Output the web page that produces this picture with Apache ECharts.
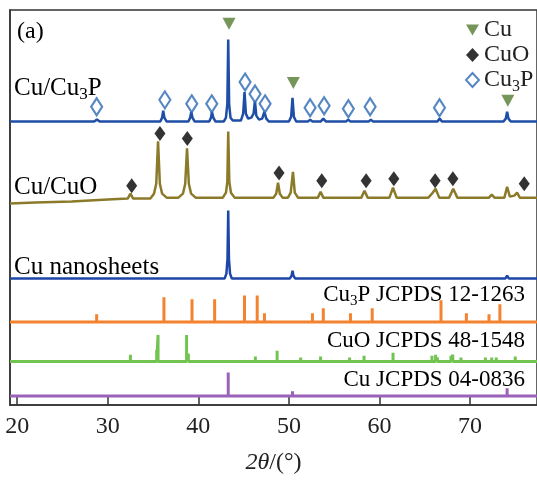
<!DOCTYPE html>
<html lang="en" style="height: 100%">
<head>
    <meta charset="utf-8">
</head>
<body style="height: 100%; margin: 0">
    <div id="container" style="width: 537px; height: 480px"></div>
    <script type="text/javascript" src="https://fastly.jsdelivr.net/npm/echarts@6.0.0/dist/echarts.min.js"></script>
    <script type="text/javascript">
    // 2theta range of the plot
    const xMin = 19.2;
    const xMax = 77.4;
    const xTicks = [20, 30, 40, 50, 60, 70];

    // measured patterns: [2theta, intensity above baseline]
    const cuCu3pTrace = [
        [19.2, 0], [28.5, 0], [28.8, 2], [29.1, 0],
        [35.8, 0], [36.0, 4], [36.12, 11], [36.25, 4], [36.5, 0],
        [38.9, 0], [39.1, 4], [39.22, 10], [39.35, 4], [39.6, 0],
        [41.2, 0], [41.4, 4], [41.5, 10], [41.65, 4], [41.9, 0],
        [42.8, 0], [43.05, 4], [43.2, 18], [43.3, 83], [43.4, 18], [43.55, 4], [43.8, 1],
        [44.7, 1], [44.95, 8], [45.1, 30], [45.25, 8], [45.5, 3], [45.85, 4], [46.1, 8], [46.25, 21],
        [46.4, 6], [46.7, 2], [47.05, 3], [47.3, 10], [47.5, 3], [47.8, 0],
        [50.0, 0], [50.25, 5], [50.4, 24], [50.55, 5], [50.8, 0],
        [52.1, 0], [52.35, 2], [52.6, 0], [53.5, 0], [53.8, 3], [54.1, 0],
        [56.3, 0], [56.55, 2], [56.8, 0], [58.8, 0], [59.05, 2], [59.3, 0],
        [66.4, 0], [66.65, 3], [66.9, 0],
        [73.7, 0], [73.95, 3], [74.1, 10], [74.25, 3], [74.5, 0], [77.4, 0]
    ];
    const cuCuoTrace = [
        [19.2, -6], [22, -5], [26, -4], [30, -2], [32.2, -1], [32.5, 4], [32.8, -1],
        [34.7, -1], [35.1, 4], [35.35, 14], [35.55, 57], [35.75, 14], [36.0, 4], [36.5, 0],
        [37.8, 0], [38.3, 4], [38.55, 14], [38.75, 50], [38.95, 14], [39.2, 4], [39.7, 0],
        [42.7, 0], [43.05, 5], [43.2, 16], [43.3, 67], [43.42, 16], [43.6, 5], [44.0, 0],
        [46.3, 0], [46.5, 2], [46.7, 0],
        [48.3, 0], [48.6, 4], [48.8, 15], [49.0, 4], [49.3, 0],
        [49.9, 0], [50.2, 5], [50.45, 26], [50.65, 5], [51.0, 0],
        [53.2, 0], [53.5, 6], [53.8, 0],
        [58.0, 0], [58.35, 7], [58.7, 0],
        [61.1, 0], [61.5, 10], [61.9, 0],
        [65.4, 0], [65.8, 4], [66.0, 6], [66.2, 9], [66.6, 0],
        [67.7, 0], [68.15, 9], [68.6, 0],
        [72.1, 0], [72.4, 3], [72.7, 0],
        [73.8, 0], [74.1, 11], [74.4, 1], [74.9, 2], [75.2, 5], [75.5, 0], [77.4, 0]
    ];
    const cuNanoTrace = [
        [19.2, 0], [42.9, 0], [43.1, 5], [43.22, 20], [43.3, 69], [43.38, 20], [43.5, 5], [43.7, 0],
        [50.1, 0], [50.3, 3], [50.4, 8], [50.5, 3], [50.7, 0],
        [73.9, 0], [74.1, 3], [74.3, 0], [77.4, 0]
    ];

    // standard cards: [2theta, relative line height]
    const cu3pCard = [
        [28.77, 8], [36.2, 25], [39.3, 23], [41.8, 23], [45.1, 27], [46.5, 27], [47.3, 9],
        [52.6, 9], [53.8, 14], [56.8, 9], [59.2, 14], [66.8, 22], [69.6, 9], [72.1, 8], [73.3, 18]
    ];
    const cuoCard = [
        [32.5, 7], [35.4, 12], [35.55, 27], [38.7, 27], [38.9, 8], [46.3, 5], [48.7, 11],
        [51.3, 4], [53.5, 5], [56.7, 4], [58.3, 6], [61.5, 9], [65.8, 6], [66.2, 7], [66.4, 4],
        [67.9, 6], [68.1, 7], [69.0, 4], [71.7, 4], [72.4, 4], [72.9, 4], [75.0, 5]
    ];
    const cuCard = [[43.3, 24], [50.4, 5], [74.1, 8]];

    // phase markers: [2theta, y]
    const cuMarks = [[43.39, 386], [50.49, 326], [74.18, 308]];
    const cuoMarks = [
        [32.64, 222], [35.76, 275], [38.78, 270], [48.91, 235], [53.63, 227],
        [58.53, 227], [61.59, 229], [66.15, 227], [68.11, 229], [75.99, 224]
    ];
    const cu3pMarks = [
        [28.77, 302], [36.3, 309], [39.27, 305], [41.48, 305], [45.16, 327], [46.26, 315],
        [47.37, 305], [52.34, 301], [53.89, 303], [56.57, 300], [58.97, 302], [66.63, 301]
    ];

    const serif = '"Liberation Serif", "DejaVu Serif", serif';

    function shift(trace, base) {
        return trace.map(p => [p[0], p[1] + base]);
    }
    function sticks(card, base) {
        const pts = [[xMin, base]];
        card.forEach(p => {
            pts.push([p[0], base], [p[0], base + p[1]], [p[0], base]);
        });
        pts.push([xMax, base]);
        return pts;
    }
    function lineSeries(data, color, width) {
        return {
            type: 'line',
            data: data,
            showSymbol: false,
            silent: true,
            lineStyle: { color: color, width: width },
            z: 2
        };
    }

    function rich(size) {
        return {
            a: { fontFamily: serif, fontSize: size, lineHeight: size + 5, color: '#222' },
            s: { fontFamily: serif, fontSize: Math.round(size * 0.66), lineHeight: Math.round(size * 0.66), color: '#222', verticalAlign: 'bottom' }
        };
    }
    function label(x, y, text, size, align) {
        return {
            type: 'text',
            x: x,
            y: y,
            style: {
                text: text,
                rich: rich(size),
                align: align || 'left',
                verticalAlign: 'middle'
            },
            z: 10
        };
    }

    var dom = document.getElementById('container');
    var myChart = echarts.init(dom, null, { renderer: 'canvas' });

    var option = {
        animation: false,
        backgroundColor: '#fff',
        grid: {
            left: 10,
            right: 0,
            top: 10,
            bottom: 70,
            show: true,
            borderColor: '#333',
            borderWidth: 1.5
        },
        legend: {
            orient: 'vertical',
            left: 460,
            top: 13,
            itemGap: 1,
            itemWidth: 13,
            itemHeight: 14,
            data: [
                { name: 'Cu', icon: 'path://M0,0L12,0L6,10Z' },
                { name: 'CuO', icon: 'diamond' },
                { name: 'Cu3P', icon: 'diamond' }
            ],
            formatter: function (name) {
                return name === 'Cu3P' ? '{a|Cu}{s|3}{a|P}' : '{a|' + name + '}';
            },
            textStyle: { rich: rich(24) }
        },
        xAxis: {
            type: 'value',
            min: xMin,
            max: xMax,
            splitLine: { show: false },
            axisLine: { lineStyle: { color: '#333', width: 1.5 } },
            axisTick: { inside: true, length: 8, customValues: xTicks, lineStyle: { color: '#333', width: 1.5 } },
            axisLabel: {
                customValues: xTicks,
                margin: 10,
                fontFamily: serif,
                fontSize: 24,
                color: '#222'
            },
            name: '{i|2θ}{n|/(°)}',
            nameLocation: 'middle',
            nameGap: 46,
            nameTextStyle: {
                rich: {
                    i: { fontFamily: serif, fontSize: 24, fontStyle: 'italic', color: '#222' },
                    n: { fontFamily: serif, fontSize: 24, color: '#222' }
                }
            }
        },
        yAxis: {
            type: 'value',
            min: 0,
            max: 400,
            splitLine: { show: false },
            axisLabel: { show: false },
            axisTick: { show: false },
            axisLine: { show: true, lineStyle: { color: '#333', width: 1.5 } }
        },
        series: [
            lineSeries(shift(cuCu3pTrace, 287), '#1f4ea6', 2.5),
            lineSeries(shift(cuCuoTrace, 210), '#8a7a2a', 2.5),
            lineSeries(shift(cuNanoTrace, 128), '#1c46a8', 2.5),
            lineSeries(sticks(cu3pCard, 84), '#f4822f', 3),
            lineSeries(sticks(cuoCard, 44), '#72c451', 3),
            lineSeries(sticks(cuCard, 9), '#9a62b8', 3),
            {
                name: 'Cu',
                type: 'scatter',
                data: cuMarks,
                symbol: 'triangle',
                symbolRotate: 180,
                symbolSize: [13, 12],
                itemStyle: { color: '#527b30' },
                z: 5
            },
            {
                name: 'CuO',
                type: 'scatter',
                data: cuoMarks,
                symbol: 'diamond',
                symbolSize: [11, 15],
                itemStyle: { color: '#000' },
                z: 5
            },
            {
                name: 'Cu3P',
                type: 'scatter',
                data: cu3pMarks,
                symbol: 'diamond',
                symbolSize: [11, 17],
                itemStyle: { color: '#fff', borderColor: '#2a69b3', borderWidth: 2.2 },
                z: 5
            }
        ],
        graphic: [
            label(17, 32, '{a|(a)}', 24),
            label(14, 88, '{a|Cu/Cu}{s|3}{a|P}', 25),
            label(14, 187, '{a|Cu/CuO}', 25),
            label(14, 267, '{a|Cu nanosheets}', 25),
            label(525, 295, '{a|Cu}{s|3}{a|P JCPDS 12-1263}', 23, 'right'),
            label(525, 341, '{a|CuO JCPDS 48-1548}', 23, 'right'),
            label(525, 380, '{a|Cu JCPDS 04-0836}', 23, 'right')
        ]
    };

    myChart.setOption(option);
    window.addEventListener('resize', myChart.resize);
    </script>
</body>
</html>
